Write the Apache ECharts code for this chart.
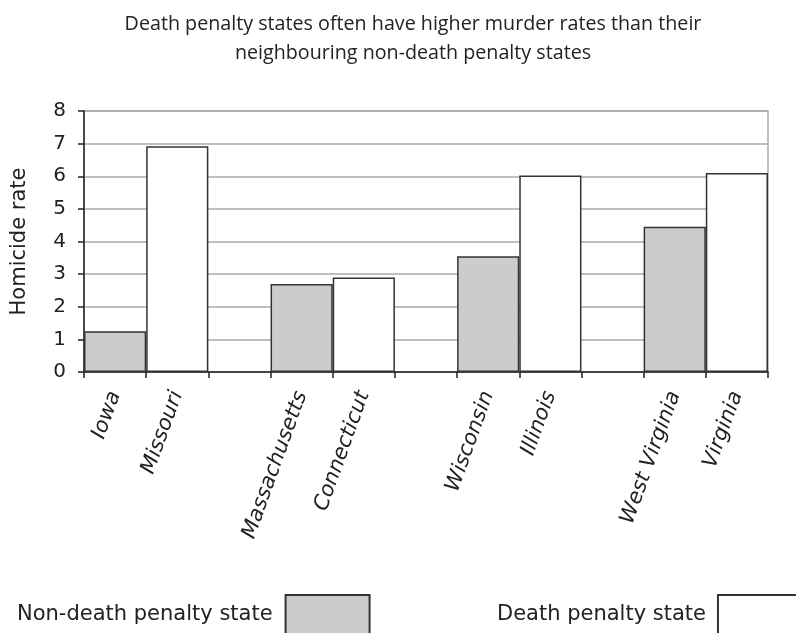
<!DOCTYPE html>
<html>
<head>
<meta charset="utf-8">
<script src="https://cdn.jsdelivr.net/npm/echarts@6/dist/echarts.min.js"></script>
<style>
  html, body { margin: 0; padding: 0; background: #fff; }
  #chart { width: 796px; height: 633px; }
</style>
</head>
<body>
<div id="chart"></div>
<script>
// State pairs: each non-death penalty state next to its death penalty neighbour,
// with an empty slot between pairs.
const categories = ['Iowa', 'Missouri', '', 'Massachusetts', 'Connecticut', '',
                    'Wisconsin', 'Illinois', '', 'West Virginia', 'Virginia'];
const nonDeathRates = [1.25, null, null, 2.7, null, null, 3.55, null, null, 4.45, null];
const deathRates    = [null, 6.92, null, null, 2.9, null, null, 6.02, null, null, 6.1];
const yTicks = [0, 1, 2, 3, 4, 5, 6, 7, 8];

const TITLE_FONT = '"Open Sans", "Noto Sans", sans-serif';
const FONT = '"DejaVu Sans", "Noto Sans", sans-serif';

const chart = echarts.init(document.getElementById('chart'), null, { renderer: 'canvas' });

chart.setOption({
  animation: false,
  backgroundColor: '#ffffff',
  title: {
    text: 'Death penalty states often have higher murder rates than their\nneighbouring non-death penalty states',
    left: 408,
    textAlign: 'center',
    top: 5,
    textStyle: { fontFamily: TITLE_FONT, fontSize: 19.7, fontWeight: 'normal', color: '#222', lineHeight: 29 }
  },
  legend: [
    {
      data: ['Non-death penalty state'],
      left: 12, top: 589,
      align: 'right',
      itemWidth: 84, itemHeight: 40,
      icon: 'rect',
      textStyle: { fontFamily: FONT, fontSize: 21, color: '#222', padding: [0, 8, 0, 0] },
      selectedMode: false
    },
    {
      data: ['Death penalty state'],
      left: 492, top: 589,
      align: 'right',
      itemWidth: 84, itemHeight: 40,
      icon: 'rect',
      textStyle: { fontFamily: FONT, fontSize: 21, color: '#222', padding: [0, 7, 0, 0] },
      selectedMode: false
    }
  ],
  grid: { left: 84, right: 28, top: 111, bottom: 261, containLabel: false,
          show: true, borderColor: '#aaa', borderWidth: 1.5 },
  xAxis: {
    type: 'category',
    data: categories,
    boundaryGap: true,
    axisLine: { lineStyle: { color: '#222', width: 1.5 } },
    axisTick: { show: true, alignWithLabel: false, length: 6, lineStyle: { color: '#222', width: 1.5 } },
    axisLabel: {
      interval: 0, rotate: 70, margin: 20,
      fontFamily: FONT, fontSize: 21, fontStyle: 'italic', color: '#222'
    }
  },
  yAxis: {
    type: 'value',
    min: yTicks[0], max: yTicks[yTicks.length - 1], interval: 1,
    name: 'Homicide rate',
    nameLocation: 'middle',
    nameGap: 54,
    nameRotate: 90,
    nameTextStyle: { fontFamily: FONT, fontSize: 21, color: '#222' },
    axisLine: { show: true, lineStyle: { color: '#222', width: 1.5 } },
    axisTick: { show: true, length: 6, lineStyle: { color: '#222', width: 1.5 } },
    axisLabel: { fontFamily: FONT, fontSize: 20, color: '#222', margin: 18 },
    splitLine: { show: true, lineStyle: { color: '#aaa', width: 1.5 } }
  },
  series: [
    {
      name: 'Non-death penalty state',
      type: 'bar',
      data: nonDeathRates,
      barWidth: '100%',
      barGap: '-100%',
      itemStyle: { color: '#cccccc', borderColor: '#333', borderWidth: 1.5 }
    },
    {
      name: 'Death penalty state',
      type: 'bar',
      data: deathRates,
      barWidth: '100%',
      barGap: '-100%',
      itemStyle: { color: '#ffffff', borderColor: '#333', borderWidth: 1.5 }
    }
  ]
});
</script>
</body>
</html>
